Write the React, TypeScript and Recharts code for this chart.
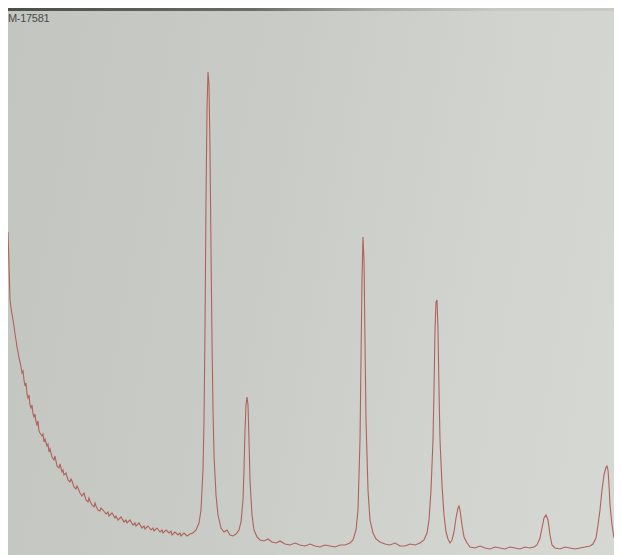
import { Line, LineChart, XAxis, YAxis } from "recharts";

const decayTail: [number, number][] = [
  [8, 323], [9, 290], [10, 255], [11, 247], [12, 241], [13, 235], [14, 229], [15, 221],
  [16, 215], [17, 208], [18, 203], [19, 197], [20, 193], [21, 188], [22, 182], [23, 184],
  [24, 175], [25, 169], [26, 172], [27, 161], [28, 157], [29, 160], [30, 150], [31, 147],
  [32, 150], [33, 141], [34, 138], [35, 141], [36, 133], [37, 130], [38, 134], [39, 124],
  [40, 122], [42, 119], [43, 121], [44, 113], [45, 116], [47, 109], [48, 111], [49, 103],
  [50, 106], [52, 98], [54, 95], [55, 99], [57, 89], [59, 87], [60, 91], [62, 83],
  [63, 85], [64, 80], [66, 82], [68, 75], [70, 73], [71, 76], [72, 74], [74, 68],
  [76, 66], [77, 69], [78, 67], [80, 62], [82, 59], [84, 62], [86, 55], [88, 53],
  [89, 57], [90, 54], [92, 50], [94, 48], [95, 52], [96, 49], [98, 45], [100, 44],
  [101, 47], [103, 45], [106, 41], [108, 43], [109, 39], [112, 42], [115, 37], [116, 39],
  [118, 35], [121, 38], [124, 33], [126, 35], [127, 32], [130, 35], [133, 30], [135, 32],
  [136, 29], [139, 32], [142, 27], [144, 29], [145, 26], [148, 29], [151, 25], [153, 27],
  [154, 24], [157, 27], [160, 23], [162, 25], [163, 22], [166, 25], [169, 22], [171, 24],
  [172, 20], [175, 23], [178, 20], [180, 22], [181, 19], [184, 22], [187, 19], [190, 21],
  [193, 22],
];

const peakA: [number, number][] = [
  [196, 25], [199, 32], [201, 45], [203, 85], [204, 135], [205, 225], [206, 355], [207, 445],
  [208, 483], [209, 470], [210, 405], [211, 305], [212, 215], [213, 145], [214, 100], [216, 60],
  [218, 40], [221, 27], [224, 23], [227, 25], [230, 20], [233, 19], [236, 21],
];

const peakB: [number, number][] = [
  [239, 25], [241, 33], [243, 55], [244, 85], [245, 125], [246, 150], [247, 158], [248, 150],
  [249, 115], [250, 75], [252, 40], [254, 25], [257, 18],
];

const flatMid: [number, number][] = [
  [260, 15], [264, 14], [268, 16], [272, 13], [276, 12], [280, 14], [285, 11], [290, 10],
  [295, 12], [300, 10], [305, 9], [310, 11], [315, 9], [320, 8], [325, 10], [330, 9],
  [335, 8], [340, 10], [345, 10], [350, 12],
];

const peakC: [number, number][] = [
  [353, 15], [356, 25], [358, 45], [360, 115], [361, 195], [362, 275], [363, 318], [364, 295],
  [365, 215], [366, 135], [368, 65], [370, 35], [373, 22], [376, 16], [380, 13], [385, 11],
  [390, 10], [395, 12], [400, 9], [405, 9], [410, 11], [415, 10], [420, 12],
];

const peakDE: [number, number][] = [
  [424, 15], [427, 22], [429, 35], [431, 65], [433, 115], [434, 165], [435, 225], [436, 253],
  [437, 255], [438, 225], [439, 165], [440, 115], [442, 70], [444, 40], [446, 23], [448, 16],
  [450, 12], [452, 15], [454, 23], [456, 37], [458, 47], [459, 49], [460, 45], [462, 30],
  [464, 18], [467, 12],
];

const flatHigh: [number, number][] = [
  [470, 8], [475, 7], [480, 9], [485, 7], [490, 6], [495, 8], [500, 7], [505, 6],
  [510, 8], [515, 7], [520, 6], [525, 8], [530, 7], [534, 8],
];

const peakF: [number, number][] = [
  [537, 10], [540, 17], [542, 27], [544, 37], [546, 40], [548, 35], [550, 20], [552, 10],
  [555, 7], [560, 6], [565, 8], [570, 7], [575, 6], [580, 7], [585, 8], [590, 9],
];

const peakG: [number, number][] = [
  [593, 11], [596, 17], [598, 30], [600, 45], [602, 65], [604, 80], [606, 88], [607, 89],
  [608, 85], [609, 70], [610, 50], [612, 30], [614, 17],
];

const sampleId = "M-17581";

const data = [
  ...decayTail, ...peakA, ...peakB, ...flatMid, ...peakC,
  ...peakDE, ...flatHigh, ...peakF, ...peakG,
].map(([x, y]) => ({ x, y }));

export default function App() {
  return (
    <div
      style={{
        position: "relative",
        width: 614,
        height: 547,
        overflow: "hidden",
        background:
          "linear-gradient(100deg, #c3c5c1 0%, #c9cbc7 40%, #d2d4d0 75%, #d6d8d4 100%)",
      }}
    >
      <div
        style={{
          position: "absolute",
          left: 0,
          top: 0,
          width: 614,
          height: 3,
          background:
            "linear-gradient(90deg, #4d4e4b 0%, #6b6c69 40%, #a9aaa6 60%, #c8c9c5 80%)",
        }}
      />
      <div
        style={{
          position: "absolute",
          left: 0,
          top: 4,
          fontFamily: "'Liberation Sans', Arial, sans-serif",
          fontSize: 11,
          color: "#4a4b48",
          letterSpacing: -0.3,
        }}
      >
        {sampleId}
      </div>
      <LineChart
        width={614}
        height={547}
        data={data}
        margin={{ top: 0, right: 0, bottom: 0, left: 0 }}
        style={{ position: "absolute", left: 0, top: 0 }}
      >
        <XAxis dataKey="x" type="number" domain={[8, 622]} hide />
        <YAxis type="number" domain={[0, 547]} hide />
        <Line
          type="linear"
          dataKey="y"
          stroke="#b0625a"
          strokeWidth={1.1}
          dot={false}
          isAnimationActive={false}
        />
      </LineChart>
    </div>
  );
}
